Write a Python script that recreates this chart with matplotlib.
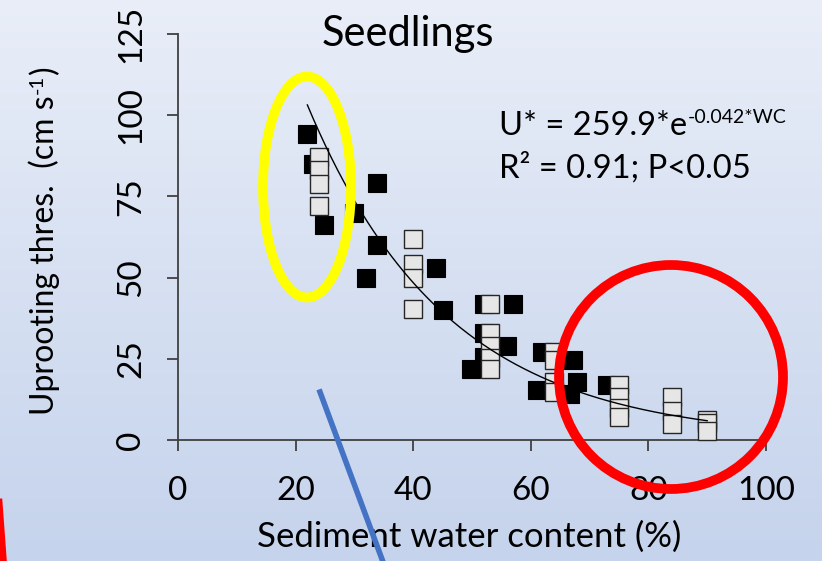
import numpy as np
import matplotlib
matplotlib.use("Agg")
import matplotlib.pyplot as plt
from matplotlib.patches import Ellipse
from matplotlib.lines import Line2D

plt.rcParams['font.family'] = ['Lato', 'DejaVu Sans']

# ---------------- data ----------------
black_wc = [21.9, 23.0, 33.9, 29.9, 24.9, 33.9, 31.9, 43.9, 45.0, 52.0, 57.0,
            52.0, 52.0, 56.0, 49.9, 61.9, 67.1, 67.9, 61.0, 66.6, 72.9]
black_u = [94.1, 85.0, 79.0, 70.0, 66.2, 60.0, 50.0, 53.1, 40.0, 42.0, 42.0,
           33.0, 25.5, 29.0, 21.9, 27.1, 24.7, 18.0, 15.4, 14.2, 16.9]

gray_wc = [24.0, 24.0, 24.0, 24.0,
           40.0, 40.0, 40.0, 40.0,
           53.0, 53.0, 53.0, 53.0, 53.0,
           64.0, 64.0, 64.0, 64.0,
           75.0, 75.0, 75.0, 75.0,
           84.0, 84.0, 84.0,
           90.0, 90.0, 90.0]
gray_u = [87.1, 83.0, 78.9, 72.0,
          61.9, 54.2, 49.9, 40.2,
          42.0, 33.0, 29.0, 25.3, 21.9,
          27.1, 24.7, 17.8, 14.8,
          16.9, 13.3, 9.9, 7.2,
          13.2, 8.9, 5.0,
          6.1, 5.2, 2.9]

fit_a = 259.9
fit_b = -0.042
fit_range = (22.0, 90.0)

x_ticks = [0, 20, 40, 60, 80, 100]
y_ticks = [0, 25, 50, 75, 100, 125]

title = 'Seedlings'
eq_base = 'U* = 259.9*e'
eq_sup = '-0.042*WC'
stats_text = 'R² = 0.91; P<0.05'
x_label = 'Sediment water content (%)'
y_label_base = 'Uprooting thres.  (cm s'
y_label_sup = '-1'
y_label_end = ')'

# ---------------- figure ----------------
W, H = 822, 561
fig = plt.figure(figsize=(W / 100, H / 100), dpi=100)

def fx(px):
    return px / W

def fy(py):
    return 1 - py / H

# gradient background
bg = fig.add_axes([0, 0, 1, 1], zorder=-10)
top = np.array([233, 238, 248]) / 255
bot = np.array([197, 211, 236]) / 255
t = np.linspace(0, 1, 256)[:, None, None]
grad = top[None, None, :] * (1 - t) + bot[None, None, :] * t
bg.imshow(grad, aspect='auto', interpolation='bilinear', extent=[0, 1, 0, 1])
bg.set_axis_off()

ax = fig.add_axes([fx(178), fy(440), fx(766) - fx(178), fy(34) - fy(440)])
ax.set_facecolor('none')
ax.set_xlim(0, 100)
ax.set_ylim(0, 125)

axis_col = '#404040'
for s in ['top', 'right']:
    ax.spines[s].set_visible(False)
for s in ['left', 'bottom']:
    ax.spines[s].set_color(axis_col)
    ax.spines[s].set_linewidth(1.3)

ax.set_xticks(x_ticks)
ax.set_yticks(y_ticks)
ax.tick_params(axis='both', direction='out', length=8, width=1.3, color=axis_col,
               labelsize=24, labelcolor='black')
ax.tick_params(axis='x', pad=18)
ax.tick_params(axis='y', pad=15)
for lab in ax.get_yticklabels():
    lab.set_rotation(90)
    lab.set_va('center')

ms = 13.2
ax.plot(black_wc, black_u, linestyle='none', marker='s', markersize=ms,
        markerfacecolor='black', markeredgecolor='black', markeredgewidth=0.8,
        zorder=3, clip_on=False)
ax.plot(gray_wc, gray_u, linestyle='none', marker='s', markersize=ms,
        markerfacecolor='#e6e6e6', markeredgecolor='#262626', markeredgewidth=1.0,
        zorder=4, clip_on=False)

xf = np.linspace(fit_range[0], fit_range[1], 200)
ax.plot(xf, fit_a * np.exp(fit_b * xf), color='black', linewidth=1.0, zorder=5)

# texts
fig.text(fx(408), fy(46), title, ha='center', va='baseline', fontsize=30)
renderer = fig.canvas.get_renderer()
t_eq = fig.text(fx(499), fy(135), eq_base, ha='left', va='baseline', fontsize=23.5)
bb = t_eq.get_window_extent(renderer)
fig.text(bb.x1 / W + 1 / W, fy(135 - 12), eq_sup, ha='left', va='baseline',
         fontsize=14)
fig.text(fx(499), fy(178), stats_text, ha='left', va='baseline', fontsize=23.5)
fig.text(fx(469), fy(537), x_label, ha='center', va='center', fontsize=25)

# y label with superscript, built from rotated pieces along a vertical baseline
ylab_fs = 23
base_px = 54
t1 = fig.text(fx(base_px), fy(415), y_label_base, ha='left', va='baseline',
              rotation=90, rotation_mode='anchor', fontsize=ylab_fs)
b1 = t1.get_window_extent(renderer)
t2 = fig.text(fx(base_px - 11), (b1.y1 + 1) / H, y_label_sup, ha='left',
              va='baseline', rotation=90, rotation_mode='anchor', fontsize=14.5)
b2 = t2.get_window_extent(renderer)
fig.text(fx(base_px), (b2.y1 + 1) / H, y_label_end, ha='left', va='baseline',
         rotation=90, rotation_mode='anchor', fontsize=ylab_fs)

# annotation shapes
lw_ring = 7.0
fig.patches.append(Ellipse((fx(307), fy(187)), 88 / W, 221 / H, fill=False,
                           edgecolor='#ffff00', linewidth=lw_ring,
                           transform=fig.transFigure, zorder=6))
fig.patches.append(Ellipse((fx(671), fy(377)), 224 / W, 224 / H, fill=False,
                           edgecolor='#ff0000', linewidth=lw_ring,
                           transform=fig.transFigure, zorder=6))
fig.lines.append(Line2D([fx(320), fx(386)], [fy(392), fy(570)], color='#4472c4',
                        linewidth=4, transform=fig.transFigure, zorder=6))
fig.lines.append(Line2D([fx(-3), fx(4)], [fy(475), fy(570)], color='#ff0000',
                        linewidth=5, transform=fig.transFigure, zorder=6))

fig.savefig('out.png', dpi=100)
